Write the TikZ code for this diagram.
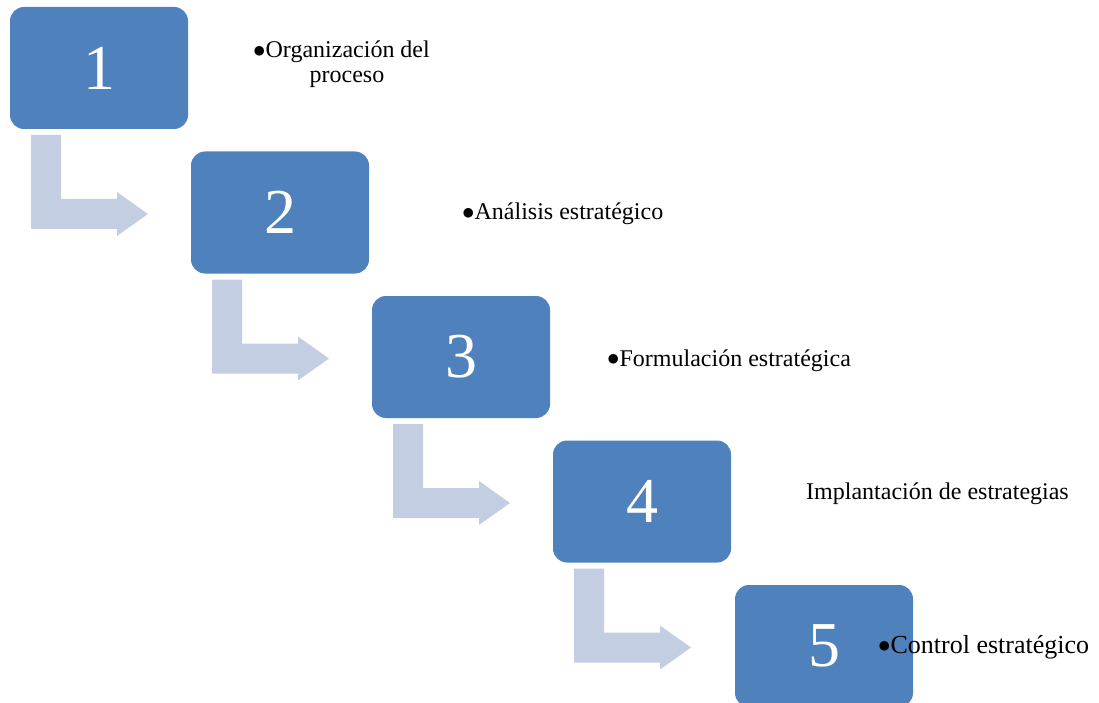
\documentclass[tikz,border=0pt]{standalone}
\usepackage{fontspec}
\setmainfont{Liberation Serif}
\definecolor{boxblue}{HTML}{4F81BD}
\definecolor{arrowblue}{HTML}{C3CEE2}
\newcommand{\bul}{\raisebox{0.02em}{$\bullet$}}
\tikzset{
  stepbox/.style={rectangle, rounded corners=14pt, fill=boxblue, draw=none,
    minimum width=178pt, minimum height=122pt, inner sep=0pt,
    text=white, font=\fontsize{64}{64}\selectfont},
  lbl/.style={inner sep=0pt, anchor=base west, font=\fontsize{24}{25}\selectfont, text=black},
  bent/.style={fill=arrowblue, draw=none}
}
\begin{document}
\begin{tikzpicture}[x=1pt,y=-1pt]
\useasboundingbox (0,0) rectangle (1099,703);
\clip (0,0) rectangle (1099,703);
% arrows
\foreach \i in {0,1,2,3}{
  \coordinate (a\i) at ({31+181*\i},{135+144.5*\i});
  \fill[bent,shift={(a\i)}] (0,0) -- (30,0) -- (30,64) -- (86,64) -- (86,57) -- (117,79) -- (86,101) -- (86,94) -- (0,94) -- cycle;
}
% boxes
\node[stepbox] (b1) at (99,68) {1};
\node[stepbox] (b2) at (280,212.5) {2};
\node[stepbox] (b3) at (461,357) {3};
\node[stepbox] (b4) at (642,501.5) {4};
\node[stepbox] (b5) at (824,646) {5};
% labels
\node[lbl, anchor=base, align=center] (t1) at (341.5,83) {\bul Organización del\\\hspace*{11pt}proceso};
\node[lbl] (t2) at (462,220) {\bul Análisis estratégico};
\node[lbl] (t3) at (607,366) {\bul Formulación estratégica};
\node[lbl] (t4) at (806,499) {Implantación de estrategias};
\node[lbl, font=\fontsize{26}{28}\selectfont] (t5) at (878,653) {\bul Control estratégico};
\end{tikzpicture}
\end{document}
